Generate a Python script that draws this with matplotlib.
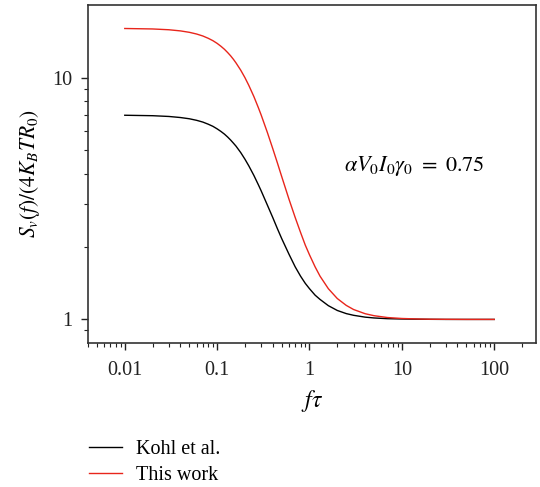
import matplotlib
matplotlib.use('Agg')
import matplotlib.pyplot as plt
from matplotlib.ticker import LogLocator, FixedLocator, FixedFormatter, NullFormatter

plt.rcParams['font.family'] = ['Liberation Serif', 'DejaVu Serif']
plt.rcParams['mathtext.fontset'] = 'stix'

# values
f_tau = [0.01, 0.02, 0.03, 0.04, 0.05, 0.06, 0.07, 0.08, 0.09, 0.1, 0.11, 0.12,
         0.13, 0.14, 0.15, 0.16, 0.18, 0.2, 0.22, 0.25, 0.28, 0.3, 0.35, 0.4,
         0.45, 0.5, 0.6, 0.7, 0.8, 0.9, 1.0, 1.15, 1.3, 1.6, 2.0, 2.5, 3.0,
         4.0, 5.0, 7.0, 10.0, 15.0, 20.0, 30.0, 50.0, 100.0]
kohl = [6.99, 6.96, 6.91, 6.84, 6.76, 6.66, 6.55, 6.42, 6.29, 6.14, 5.99, 5.84,
        5.68, 5.52, 5.36, 5.21, 4.90, 4.60, 4.32, 3.94, 3.60, 3.40, 2.97, 2.64,
        2.37, 2.16, 1.86, 1.65, 1.51, 1.41, 1.34, 1.26, 1.21, 1.14, 1.089,
        1.057, 1.040, 1.022, 1.014, 1.007, 1.004, 1.002, 1.001, 1.0, 1.0, 1.0]
this_work = [15.97, 15.90, 15.78, 15.61, 15.40, 15.15, 14.87, 14.55, 14.22,
             13.86, 13.48, 13.10, 12.70, 12.31, 11.91, 11.51, 10.74, 10.0, 9.30,
             8.35, 7.50, 7.0, 5.93, 5.09, 4.43, 3.90, 3.14, 2.64, 2.29, 2.03,
             1.85, 1.65, 1.51, 1.34, 1.22, 1.143, 1.099, 1.056, 1.036, 1.018,
             1.009, 1.004, 1.002, 1.001, 1.0, 1.0]

x_ticks = [0.01, 0.1, 1, 10, 100]
x_labels = ['0.01', '0.1', '1', '10', '100']
y_ticks = [1, 10]
y_labels = ['1', '10']

fig = plt.figure(figsize=(5.4, 4.87), dpi=100)
ax = fig.add_axes([0.163, 0.296, 0.830, 0.694])

ax.plot(f_tau, kohl, color='black', lw=1.0, label='Kohl et al.')
ax.plot(f_tau, this_work, color='#e8251b', lw=1.0, label='This work')

ax.set_xscale('log')
ax.set_yscale('log')
ax.set_xlim(0.004, 285)
ax.set_ylim(0.8, 20)

ax.xaxis.set_major_locator(FixedLocator(x_ticks))
ax.xaxis.set_major_formatter(FixedFormatter(x_labels))
ax.xaxis.set_minor_locator(LogLocator(base=10, subs=range(2, 10), numticks=20))
ax.xaxis.set_minor_formatter(NullFormatter())
ax.yaxis.set_major_locator(FixedLocator(y_ticks))
ax.yaxis.set_major_formatter(FixedFormatter(y_labels))
ax.yaxis.set_minor_locator(FixedLocator([0.9, 2, 3, 4, 5, 6, 7, 8, 9]))
ax.yaxis.set_minor_formatter(NullFormatter())

ax.tick_params(which='major', direction='out', length=5, width=1.0, labelsize=14.5,
               colors='#222222')
ax.tick_params(axis='x', which='major', pad=8)
ax.tick_params(axis='y', which='major', pad=6)
ax.tick_params(which='minor', direction='out', length=3, width=0.8, colors='#222222')
for sp in ax.spines.values():
    sp.set_linewidth(1.2)
    sp.set_color('#333333')

ax.set_xlabel(r'$f\tau$', fontsize=17, labelpad=6)
ax.set_ylabel(r'$S_v(f)/(4K_BTR_0)$', fontsize=15.5, labelpad=8)

ax.text(13.7, 4.3, r'$\alpha V_0 I_0 \gamma_0\ =\ 0.75$', fontsize=16,
        ha='center', va='center')

fig.legend(loc='upper left', bbox_to_anchor=(0.150, 0.113), frameon=False,
           fontsize=14.5, handlelength=1.65, handletextpad=0.7, labelspacing=0.35,
           borderaxespad=0)

fig.savefig('out.png', dpi=100)
